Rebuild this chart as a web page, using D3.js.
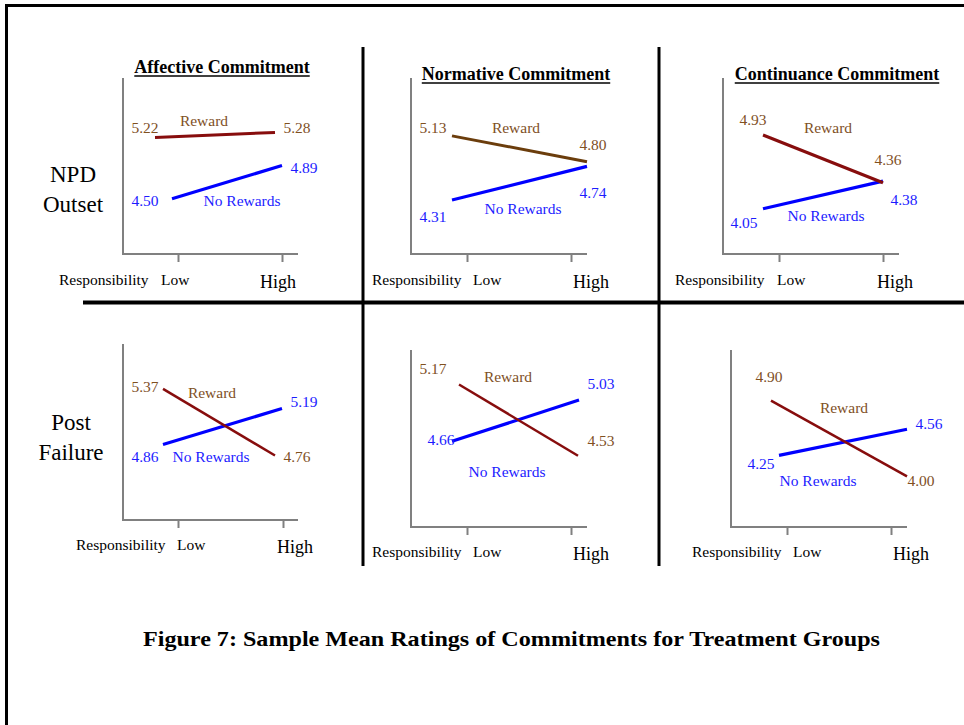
<!DOCTYPE html>
<html>
<head>
<meta charset="utf-8">
<script src="https://cdn.jsdelivr.net/npm/d3@7"></script>
<style>
  html, body { margin: 0; padding: 0; background: #fff; }
  svg { display: block; }
  text { font-family: "Liberation Serif", "Times New Roman", serif; }
</style>
</head>
<body>
<svg id="chart" width="964" height="725"></svg>
<script>
// ---------------- DATA ----------------
const categories = ["Low", "High"];
const commitments = ["Affective Commitment", "Normative Commitment", "Continuance Commitment"];
const stageLabels = [["NPD", "Outset"], ["Post", "Failure"]];
const seriesNames = ["Reward", "No Rewards"];
const xAxisTitle = "Responsibility";
// panels in reading order: row 1 (NPD Outset) affective, normative, continuance; row 2 (Post Failure)
const rewardValues   = [[5.22, 5.28], [5.13, 4.80], [4.93, 4.36], [5.37, 4.76], [5.17, 4.53], [4.90, 4.00]];
const noRewardValues = [[4.50, 4.89], [4.31, 4.74], [4.05, 4.38], [4.86, 5.19], [4.66, 5.03], [4.25, 4.56]];
const captionText = "Figure 7: Sample Mean Ratings of Commitments for Treatment Groups";

// ---------------- LAYOUT ----------------
const panelLayout = [
  {ax:123, top:78,  bottom:254, right:298, tick:[178,282], yDom:[3.85,5.92], rewX:[155,275], noX:[172,282], rewColor:"#870d0d", rewW:3,
   lab:{r0:[145,133], r1:[297,133], rn:[204,126], n0:[145,206], n1:[304,173], nn:[242,206]}, resp:[59,285], low:[161,285], high:[260,288]},
  {ax:411, top:78,  bottom:254, right:587, tick:[467,571], yDom:[3.62,5.87], rewX:[452,587], noX:[452,587], rewColor:"#6b3d0c", rewW:3,
   lab:{r0:[433,133], r1:[593,150], rn:[516,133], n0:[433,222], n1:[593,198], nn:[523,214]}, resp:[372,285], low:[473,285], high:[573,288]},
  {ax:723, top:78,  bottom:254, right:899, tick:[779,883], yDom:[3.51,5.61], rewX:[763,883], noX:[763,883], rewColor:"#870d0d", rewW:3,
   lab:{r0:[753,125], r1:[888,165], rn:[828,133], n0:[744,228], n1:[904,205], nn:[826,221]}, resp:[675,285], low:[777,285], high:[877,288]},
  {ax:123, top:344, bottom:520, right:298, tick:[178,283], yDom:[4.17,5.78], rewX:[163,275], noX:[163,282], rewColor:"#870d0d", rewW:2.5,
   lab:{r0:[145,392], r1:[297,462], rn:[212,398], n0:[145,462], n1:[304,407], nn:[211,462]}, resp:[76,550], low:[177,550], high:[277,553]},
  {ax:411, top:350, bottom:527, right:587, tick:[467,571], yDom:[3.89,5.48], rewX:[459,578], noX:[452,579], rewColor:"#870d0d", rewW:2.5,
   lab:{r0:[433,374], r1:[601,446], rn:[508,382], n0:[441,445], n1:[601,389], nn:[507,477]}, resp:[372,557], low:[473,557], high:[573,560]},
  {ax:731, top:350, bottom:527, right:907, tick:[787,891], yDom:[3.40,5.50], rewX:[771,907], noX:[779,907], rewColor:"#870d0d", rewW:2.5,
   lab:{r0:[769,382], r1:[921,486], rn:[844,413], n0:[761,469], n1:[929,429], nn:[818,486]}, resp:[692,557], low:[793,557], high:[893,560]}
];
const titlePos = [[222,73],[516,80],[837,80]];
const stagePos = [[73,182,212],[71,430,460]];

const BROWN = "#80501f";
const BLUE = "#1c1cff";
const LINEBLUE = "#0000ff";
const AXIS = "#808080";

const svg = d3.select("#chart");

// outer frame
svg.append("line").attr("x1",5).attr("x2",964).attr("y1",5.5).attr("y2",5.5).attr("stroke","#000").attr("stroke-width",3);
svg.append("line").attr("x1",6.5).attr("x2",6.5).attr("y1",4).attr("y2",725).attr("stroke","#000").attr("stroke-width",3);

// dividers
svg.append("line").attr("x1",363).attr("x2",363).attr("y1",47).attr("y2",566).attr("stroke","#000").attr("stroke-width",3);
svg.append("line").attr("x1",659).attr("x2",659).attr("y1",47).attr("y2",566).attr("stroke","#000").attr("stroke-width",3);
svg.append("line").attr("x1",83).attr("x2",964).attr("y1",302.5).attr("y2",302.5).attr("stroke","#000").attr("stroke-width",4);

// titles
commitments.forEach((t, i) => {
  const tx = svg.append("text").attr("x", titlePos[i][0]).attr("y", titlePos[i][1])
    .attr("text-anchor","middle").attr("font-weight","bold").attr("font-size",18).attr("fill","#000").text(t);
  const bb = tx.node().getBBox();
  svg.append("line").attr("x1", bb.x).attr("x2", bb.x + bb.width)
    .attr("y1", titlePos[i][1] + 3).attr("y2", titlePos[i][1] + 3).attr("stroke","#000").attr("stroke-width",1.5);
});

// row labels
stageLabels.forEach((lines, r) => {
  lines.forEach((ln, k) => {
    svg.append("text").attr("x", stagePos[r][0]).attr("y", stagePos[r][1 + k])
      .attr("text-anchor","middle").attr("font-size",23).attr("fill","#000").text(ln);
  });
});

// panels
panelLayout.forEach((L, i) => {
  const g = svg.append("g");
  const y = d3.scaleLinear().domain(L.yDom).range([L.bottom, L.top]);
  const xTicks = d3.scalePoint().domain(categories).range(L.tick);
  const xRew = d3.scalePoint().domain(categories).range(L.rewX);
  const xNo = d3.scalePoint().domain(categories).range(L.noX);

  // y axis line (no ticks)
  g.append("line").attr("x1", L.ax).attr("x2", L.ax).attr("y1", L.top).attr("y2", L.bottom)
    .attr("stroke", AXIS).attr("stroke-width", 2);
  // x axis with downward ticks
  const xa = g.append("g").attr("transform", `translate(0,${L.bottom})`)
    .call(d3.axisBottom(xTicks).tickSize(8).tickFormat(""));
  xa.select(".domain").remove();
  xa.selectAll(".tick line").attr("stroke", AXIS).attr("stroke-width", 2);
  g.append("line").attr("x1", L.ax - 1).attr("x2", L.right).attr("y1", L.bottom).attr("y2", L.bottom)
    .attr("stroke", AXIS).attr("stroke-width", 2);

  const line = (xs) => d3.line().x((d, k) => xs(categories[k])).y(d => y(d));

  g.append("path").datum(noRewardValues[i]).attr("d", line(xNo)).attr("fill","none")
    .attr("stroke", LINEBLUE).attr("stroke-width", 3.2);
  g.append("path").datum(rewardValues[i]).attr("d", line(xRew)).attr("fill","none")
    .attr("stroke", L.rewColor).attr("stroke-width", L.rewW);

  const lbl = (pos, txt, col) => g.append("text").attr("x", pos[0]).attr("y", pos[1])
    .attr("text-anchor","middle").attr("font-size",15.5).attr("fill", col).text(txt);
  lbl(L.lab.r0, rewardValues[i][0].toFixed(2), BROWN);
  lbl(L.lab.r1, rewardValues[i][1].toFixed(2), BROWN);
  lbl(L.lab.rn, seriesNames[0], BROWN);
  lbl(L.lab.n0, noRewardValues[i][0].toFixed(2), BLUE);
  lbl(L.lab.n1, noRewardValues[i][1].toFixed(2), BLUE);
  lbl(L.lab.nn, seriesNames[1], BLUE);

  g.append("text").attr("x", L.resp[0]).attr("y", L.resp[1]).attr("font-size",15.5).attr("fill","#000").text(xAxisTitle);
  g.append("text").attr("x", L.low[0]).attr("y", L.low[1]).attr("font-size",15.5).attr("fill","#000").text(categories[0]);
  g.append("text").attr("x", L.high[0]).attr("y", L.high[1]).attr("font-size",18).attr("fill","#000").text(categories[1]);
});

// caption
svg.append("text").attr("x", 143).attr("y", 646).attr("font-size", 22).attr("font-weight","bold")
  .attr("textLength", 737).attr("lengthAdjust","spacingAndGlyphs").attr("fill","#000").text(captionText);
</script>
</body>
</html>
